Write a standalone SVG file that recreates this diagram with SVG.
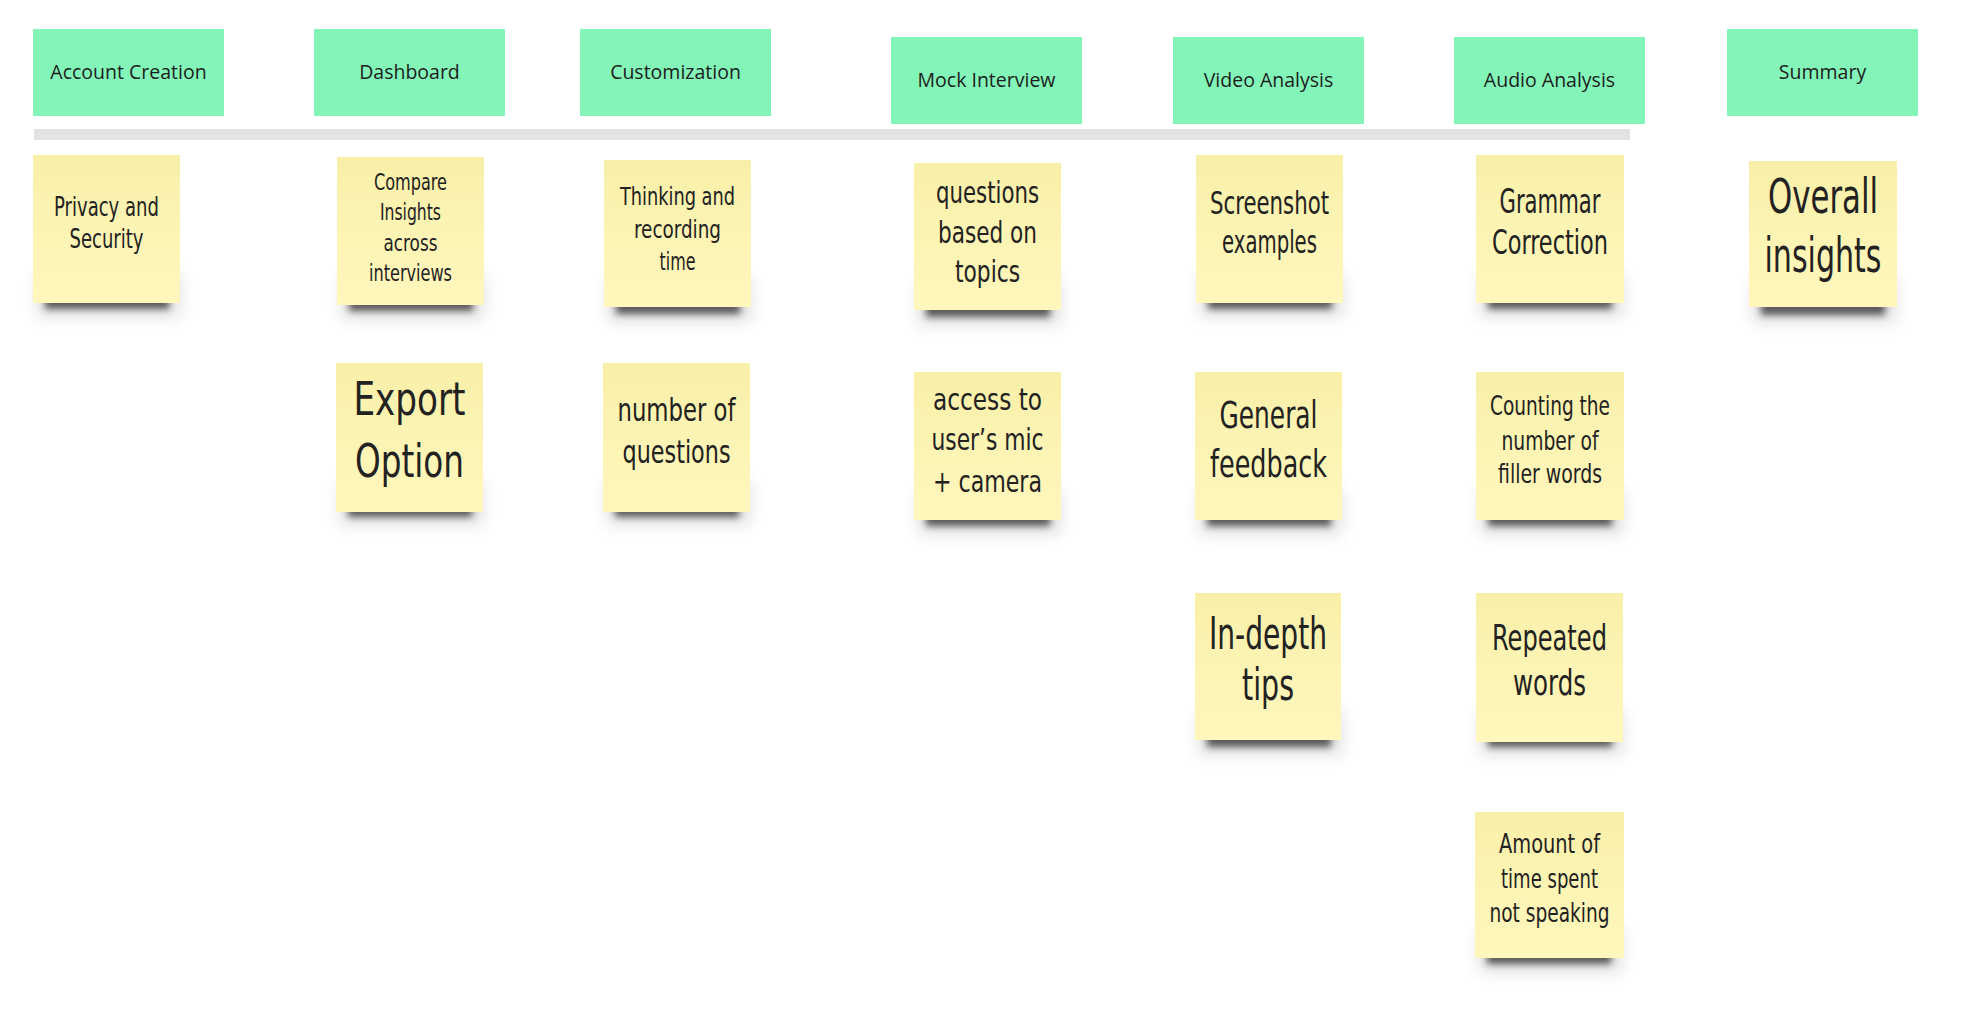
<svg xmlns="http://www.w3.org/2000/svg" width="1966" height="1032" viewBox="0 0 1966 1032">
<style>
.hdr{fill:#84f5b9}
.ht{font-family:"Open Sans","Noto Sans",sans-serif;font-size:19.5px;fill:#1c1c1c;text-anchor:middle;dominant-baseline:central}
.note{fill:url(#ng)}
.sh{fill:#000;opacity:.6;filter:url(#blur)}
.sh2{fill:#000;opacity:.12;filter:url(#blur2)}
.nt{font-family:"Liberation Sans Narrow","DejaVu Sans Condensed","Liberation Sans",sans-serif;fill:#222;text-anchor:middle}
</style>
<defs>
<linearGradient id="ng" x1="0" y1="0" x2="0" y2="1">
<stop offset="0" stop-color="#f8efa8"/>
<stop offset="0.5" stop-color="#fcf4b4"/>
<stop offset="1" stop-color="#fff7bc"/>
</linearGradient>
<filter id="blur" x="-20%" y="-100%" width="140%" height="300%"><feGaussianBlur stdDeviation="3.5"/></filter>
<filter id="blur2" x="-30%" y="-100%" width="160%" height="300%"><feGaussianBlur stdDeviation="8"/></filter>
<g id="shadow"><rect class="sh2" x="4" y="118" width="143" height="44"/><rect class="sh" x="12" y="136" width="124" height="18"/></g>
</defs>
<rect width="1966" height="1032" fill="#ffffff"/>
<g id="divider"><rect x="34" y="129" width="1596" height="11" fill="#e3e3e3"/></g>
<g id="connectors"></g>

<g id="h-account"><rect class="hdr" x="33" y="29" width="191" height="87"/><text class="ht" x="128.5" y="71">Account Creation</text></g>
<g id="h-dashboard"><rect class="hdr" x="314" y="29" width="191" height="87"/><text class="ht" x="409.5" y="71">Dashboard</text></g>
<g id="h-custom"><rect class="hdr" x="580" y="29" width="191" height="87"/><text class="ht" x="675.5" y="71">Customization</text></g>
<g id="h-mock"><rect class="hdr" x="891" y="37" width="191" height="87"/><text class="ht" x="986.5" y="79">Mock Interview</text></g>
<g id="h-video"><rect class="hdr" x="1173" y="37" width="191" height="87"/><text class="ht" x="1268.5" y="79">Video Analysis</text></g>
<g id="h-audio"><rect class="hdr" x="1454" y="37" width="191" height="87"/><text class="ht" x="1549.5" y="79">Audio Analysis</text></g>
<g id="h-summary"><rect class="hdr" x="1727" y="29" width="191" height="87"/><text class="ht" x="1822.5" y="71">Summary</text></g>

<g id="n-privacy" transform="translate(33,155)"><use href="#shadow"/><rect class="note" width="147" height="148"/>
<text class="nt" font-size="26" x="73.5" y="61" textLength="105" lengthAdjust="spacingAndGlyphs">Privacy and</text>
<text class="nt" font-size="26" x="73.5" y="93" textLength="74" lengthAdjust="spacingAndGlyphs">Security</text></g>

<g id="n-compare" transform="translate(337,157)"><use href="#shadow"/><rect class="note" width="147" height="148"/>
<text class="nt" font-size="23" x="73.5" y="33" textLength="73" lengthAdjust="spacingAndGlyphs">Compare</text>
<text class="nt" font-size="23" x="73.5" y="63" textLength="61" lengthAdjust="spacingAndGlyphs">Insights</text>
<text class="nt" font-size="23" x="73.5" y="94" textLength="54" lengthAdjust="spacingAndGlyphs">across</text>
<text class="nt" font-size="23" x="73.5" y="124" textLength="83" lengthAdjust="spacingAndGlyphs">interviews</text></g>

<g id="n-thinking" transform="translate(604,160)"><use href="#shadow"/><rect class="note" width="147" height="147"/>
<text class="nt" font-size="25" x="73.5" y="45" textLength="115" lengthAdjust="spacingAndGlyphs">Thinking and</text>
<text class="nt" font-size="25" x="73.5" y="78" textLength="87" lengthAdjust="spacingAndGlyphs">recording</text>
<text class="nt" font-size="25" x="73.5" y="110" textLength="36" lengthAdjust="spacingAndGlyphs">time</text></g>

<g id="n-questions" transform="translate(914,163)"><use href="#shadow"/><rect class="note" width="147" height="147"/>
<text class="nt" font-size="30" x="73.5" y="40" textLength="103" lengthAdjust="spacingAndGlyphs">questions</text>
<text class="nt" font-size="30" x="73.5" y="80" textLength="99" lengthAdjust="spacingAndGlyphs">based on</text>
<text class="nt" font-size="30" x="73.5" y="119" textLength="65" lengthAdjust="spacingAndGlyphs">topics</text></g>

<g id="n-screenshot" transform="translate(1196,155)"><use href="#shadow"/><rect class="note" width="147" height="148"/>
<text class="nt" font-size="32" x="73.5" y="59" textLength="119" lengthAdjust="spacingAndGlyphs">Screenshot</text>
<text class="nt" font-size="32" x="73.5" y="98" textLength="95" lengthAdjust="spacingAndGlyphs">examples</text></g>

<g id="n-grammar" transform="translate(1476,155)"><use href="#shadow"/><rect class="note" width="148" height="148"/>
<text class="nt" font-size="33" x="74" y="58" textLength="101" lengthAdjust="spacingAndGlyphs">Grammar</text>
<text class="nt" font-size="33" x="74" y="99" textLength="116" lengthAdjust="spacingAndGlyphs">Correction</text></g>

<g id="n-overall" transform="translate(1749,161)"><use href="#shadow"/><rect class="note" width="148" height="146"/>
<text class="nt" font-size="48" x="74" y="52" textLength="110" lengthAdjust="spacingAndGlyphs">Overall</text>
<text class="nt" font-size="48" x="74" y="111" textLength="117" lengthAdjust="spacingAndGlyphs">insights</text></g>

<g id="n-export" transform="translate(336,363)"><use href="#shadow"/><rect class="note" width="147" height="149"/>
<text class="nt" font-size="47" x="73.5" y="52" textLength="112" lengthAdjust="spacingAndGlyphs">Export</text>
<text class="nt" font-size="47" x="73.5" y="114" textLength="109" lengthAdjust="spacingAndGlyphs">Option</text></g>

<g id="n-number" transform="translate(603,363)"><use href="#shadow"/><rect class="note" width="147" height="149"/>
<text class="nt" font-size="32" x="73.5" y="58" textLength="118" lengthAdjust="spacingAndGlyphs">number of</text>
<text class="nt" font-size="32" x="73.5" y="100" textLength="108" lengthAdjust="spacingAndGlyphs">questions</text></g>

<g id="n-access" transform="translate(914,372)"><use href="#shadow"/><rect class="note" width="147" height="148"/>
<text class="nt" font-size="30" x="73.5" y="38" textLength="109" lengthAdjust="spacingAndGlyphs">access to</text>
<text class="nt" font-size="30" x="73.5" y="78" textLength="112" lengthAdjust="spacingAndGlyphs">user’s mic</text>
<text class="nt" font-size="30" x="73.5" y="120" textLength="109" lengthAdjust="spacingAndGlyphs">+ camera</text></g>

<g id="n-general" transform="translate(1195,372)"><use href="#shadow"/><rect class="note" width="147" height="148"/>
<text class="nt" font-size="37" x="73.5" y="56" textLength="98" lengthAdjust="spacingAndGlyphs">General</text>
<text class="nt" font-size="37" x="73.5" y="105" textLength="117" lengthAdjust="spacingAndGlyphs">feedback</text></g>

<g id="n-counting" transform="translate(1476,372)"><use href="#shadow"/><rect class="note" width="148" height="148"/>
<text class="nt" font-size="27" x="74" y="43" textLength="120" lengthAdjust="spacingAndGlyphs">Counting the</text>
<text class="nt" font-size="27" x="74" y="78" textLength="97" lengthAdjust="spacingAndGlyphs">number of</text>
<text class="nt" font-size="27" x="74" y="111" textLength="104" lengthAdjust="spacingAndGlyphs">filler words</text></g>

<g id="n-indepth" transform="translate(1195,593)"><use href="#shadow"/><rect class="note" width="146" height="147"/>
<text class="nt" font-size="44" x="73" y="56" textLength="118" lengthAdjust="spacingAndGlyphs">In-depth</text>
<text class="nt" font-size="44" x="73" y="107" textLength="52" lengthAdjust="spacingAndGlyphs">tips</text></g>

<g id="n-repeated" transform="translate(1476,593)"><use href="#shadow"/><rect class="note" width="147" height="149"/>
<text class="nt" font-size="36" x="73.5" y="57" textLength="115" lengthAdjust="spacingAndGlyphs">Repeated</text>
<text class="nt" font-size="36" x="73.5" y="102" textLength="73" lengthAdjust="spacingAndGlyphs">words</text></g>

<g id="n-amount" transform="translate(1475,812)"><use href="#shadow" y="-2"/><rect class="note" width="149" height="146"/>
<text class="nt" font-size="26" x="74.5" y="41" textLength="101" lengthAdjust="spacingAndGlyphs">Amount of</text>
<text class="nt" font-size="26" x="74.5" y="76" textLength="97" lengthAdjust="spacingAndGlyphs">time spent</text>
<text class="nt" font-size="26" x="74.5" y="110" textLength="120" lengthAdjust="spacingAndGlyphs">not speaking</text></g>
</svg>
